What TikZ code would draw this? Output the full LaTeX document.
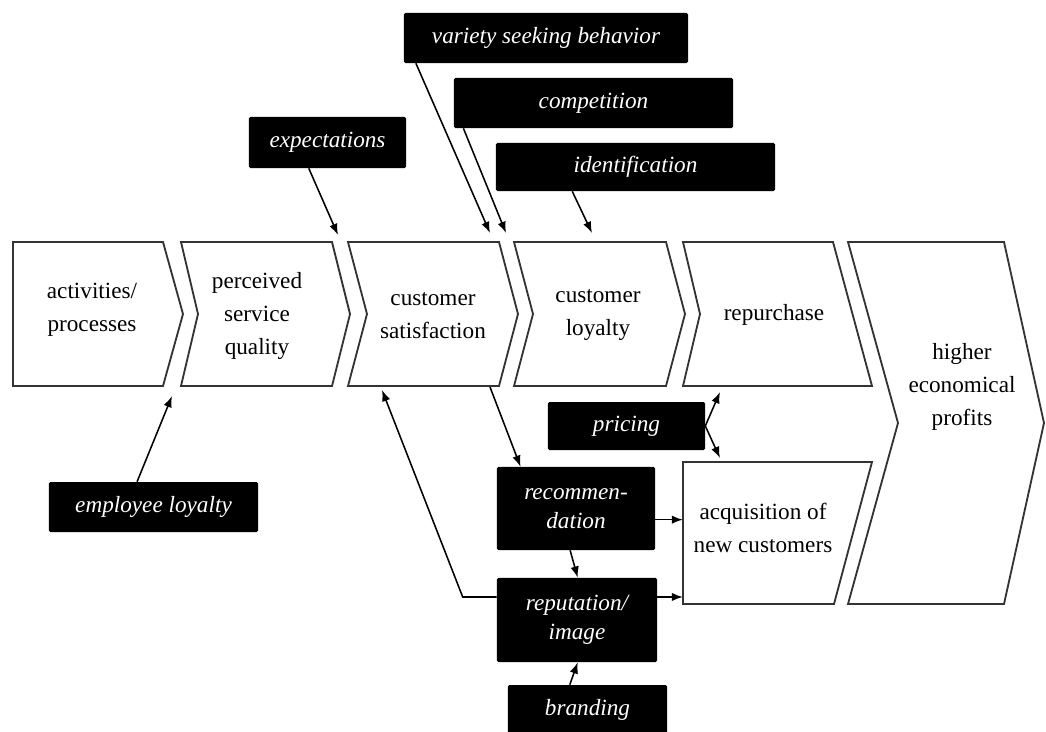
\documentclass[tikz,border=0pt]{standalone}
\usepackage{fontspec}
\setmainfont{Liberation Serif}
\usetikzlibrary{arrows.meta}

\tikzset{
  chev/.style={draw=black!80, line width=1.3pt, fill=white, line join=miter},
  stagetext/.style={align=center, font=\fontsize{16.5}{23.5}\selectfont},
  driver/.style={fill=black, text=white, align=center, inner sep=0pt,
    rounded corners=1pt, font=\fontsize{16.5}{21}\selectfont\itshape},
  infl/.style={-{Latex[length=8pt,width=6pt]}, line width=1.1pt},
}

\begin{document}
\begin{tikzpicture}[x=0.025cm, y=-0.025cm]
            \useasboundingbox (0,0) rectangle (1046,731);

            % the chain of stages
            \draw[chev] (13,242) -- (163,242) -- (183,314) -- (163,386) -- (13,386) -- cycle;
            \draw[chev] (181,242) -- (332,242) -- (350,314) -- (332,386) -- (181,386) -- (198,314) -- cycle;
            \draw[chev] (348,242) -- (499,242) -- (518,314) -- (499,386) -- (348,386) -- (367,314) -- cycle;
            \draw[chev] (514,242) -- (666,242) -- (685,314) -- (666,386) -- (514,386) -- (533,314) -- cycle;
            \draw[chev] (683,242) -- (833,242) -- (872,386) -- (683,386) -- (700,314) -- cycle;
            \draw[chev] (683,462) -- (872,462) -- (834,604) -- (683,604) -- cycle;
            \draw[chev] (848,242) -- (1004,242) -- (1044,423) -- (1004,604) -- (848,604) -- (898,423) -- cycle;

            \node[stagetext] (act) at (92,310) {activities/\\processes};
            \node[stagetext] (pq) at (257,316) {perceived\\service\\quality};
            \node[stagetext] (sat) at (433,316) {customer\\satisfaction};
            \node[stagetext] (loy) at (598,315) {customer\\loyalty};
            \node[stagetext] (rep) at (774,315) {repurchase};
            \node[stagetext] (acq) at (763,528) {acquisition of\\new customers};
            \node[stagetext] (prof) at (962,387) {higher\\economical\\profits};

            % influencing factors
            \node[driver, minimum width=7.1cm, minimum height=1.25cm] (variety) at (546,38) {variety seeking behavior};
            \node[driver, minimum width=6.975cm, minimum height=1.25cm] (compet) at (593.5,103) {competition};
            \node[driver, minimum width=6.975cm, minimum height=1.2cm] (ident) at (635.5,167) {identification};
            \node[driver, minimum width=3.925cm, minimum height=1.275cm] (expect) at (327.5,142.5) {expectations};
            \node[driver, minimum width=5.225cm, minimum height=1.25cm] (employee) at (153.5,507) {employee loyalty};
            \node[driver, minimum width=3.925cm, minimum height=1.2cm] (pricing) at (626.5,426) {pricing};
            \node[driver, minimum width=3.95cm, minimum height=2.075cm] (recomm) at (576,508.5) {recommen-\\dation};
            \node[driver, minimum width=4cm, minimum height=2.1cm] (reput) at (577,620) {reputation/\\image};
            \node[driver, minimum width=3.975cm, minimum height=1.25cm] (brand) at (587.5,710) {branding};

            % arrow ends on the stages
            \coordinate (gap12) at (172,396);
            \coordinate (gap23) at (338,235);
            \coordinate (loyin1) at (490,233);
            \coordinate (loyin2) at (506,233);
            \coordinate (loyin3) at (592,233);
            \coordinate (satout) at (490,387);
            \coordinate (satin) at (382,390);
            \coordinate (repin) at (720,392);
            \coordinate (acqin) at (720,458);
            \coordinate (acqw) at (683,528);

            \draw[infl] (employee.123) -- (gap12);
            \draw[infl] (expect.234) -- (gap23);
            \draw[infl] (variety.191) -- (loyin1);
            \draw[infl] (compet.191) -- (loyin2);
            \draw[infl] (ident.201) -- (loyin3);
            \draw[infl] (satout) -- (recomm.143);
            \draw[infl] (reput.164) -- ++(-34,0) -- (satin);
            \draw[infl] (recomm.262) -- (reput.89);
            \draw[infl] (recomm.-8) -- (recomm.-8 -| acqw);
            \draw[infl] (reput.16) -- (reput.16 -| acqw);
            \draw[infl] (pricing.east) -- (repin);
            \draw[infl] (pricing.east) -- (acqin);
            \draw[infl] (brand.125) -- (reput.271);

            \end{tikzpicture}
\end{document}
